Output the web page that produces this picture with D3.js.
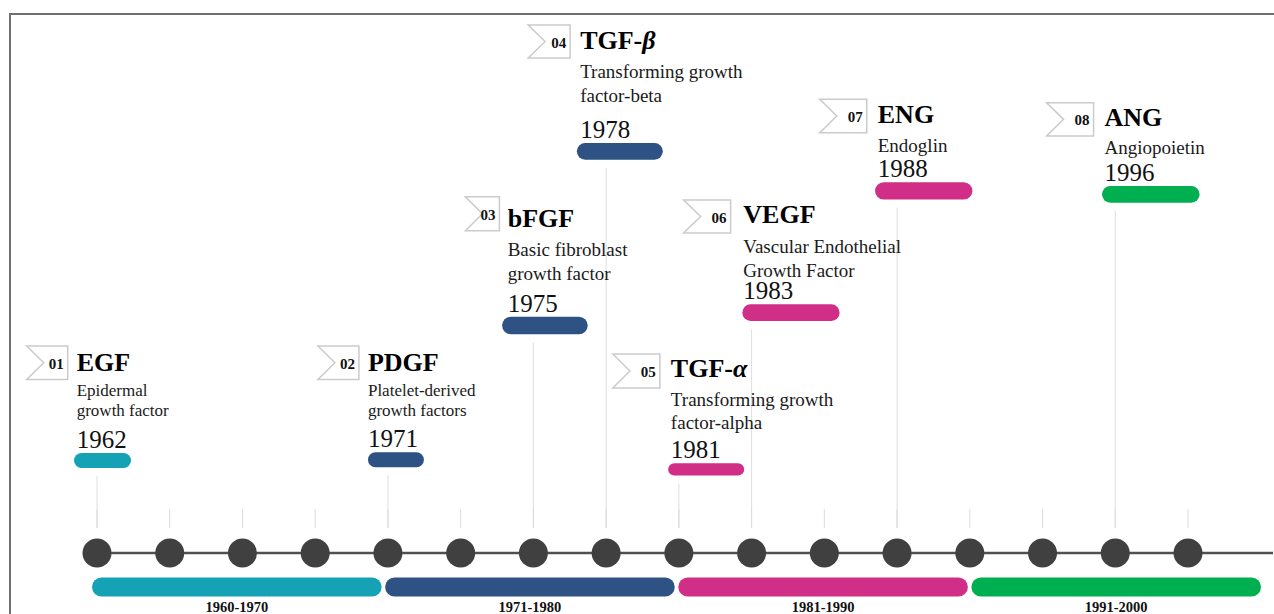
<!DOCTYPE html>
<html>
<head>
<meta charset="utf-8">
<script src="https://cdn.jsdelivr.net/npm/d3@7"></script>
<style>
  body { margin: 0; background: #fff; }
  svg { display: block; font-family: "Times New Roman", "Liberation Serif", serif; }
</style>
</head>
<body>
<script>
// decades shown under the timeline, 4 dots each
const eras = ["1960-1970", "1971-1980", "1981-1990", "1991-2000"];
const eraColors = ["#14a2b4", "#2d5283", "#d12e87", "#00b050"];
const dotsPerEra = 4;

// growth factor discoveries
const codes = ["01", "02", "03", "04", "05", "06", "07", "08"];
const names = ["EGF", "PDGF", "bFGF", "TGF-β", "TGF-α", "VEGF", "ENG", "ANG"];
const fullNames = [
  ["Epidermal", "growth factor"],
  ["Platelet-derived", "growth factors"],
  ["Basic fibroblast", "growth factor"],
  ["Transforming growth", "factor-beta"],
  ["Transforming growth", "factor-alpha"],
  ["Vascular Endothelial", "Growth Factor"],
  ["Endoglin"],
  ["Angiopoietin"]
];
const years = [1962, 1971, 1975, 1978, 1981, 1983, 1988, 1996];
// which timeline dot each discovery hangs from
const eventSlot = [0, 4, 6, 7, 8, 9, 11, 14];

// label placement (hand tuned, like the original slide)
// dx: title left from dot, y: title baseline, fw/fx/fy: flag, ds: desc font,
// d1: first desc line, lh: desc line height, yr: year baseline, px/pw/ph: pill
const layout = [
  {dx: -20.3, y: 370.7, fw: 41, fx: -9,    fy: -24.7, fh: 33.5, ds: 17, d1: 25,   lh: 20.5, yr: 77.3, px: -2.7, pw: 57,   ph: 15},
  {dx: -20,   y: 370.7, fw: 41, fx: -9,    fy: -24.7, fh: 33.5, ds: 17, d1: 25,   lh: 20.5, yr: 76.5, px: 0,    pw: 56,   ph: 15},
  {dx: -25.7, y: 226.7, fw: 34, fx: -8.3,  fy: -30,   fh: 34,   ds: 19, d1: 29,   lh: 24.3, yr: 85,   px: -5.6, pw: 85.6, ph: 17.6},
  {dx: -26,   y: 49.3,  fw: 42, fx: -10,   fy: -24.3, fh: 33,   ds: 19, d1: 28.7, lh: 23.7, yr: 88.7, px: -3.3, pw: 86,   ph: 16.7},
  {dx: -8,    y: 377.3, fw: 47, fx: -11,   fy: -23.3, fh: 34,   ds: 19, d1: 28.7, lh: 23.3, yr: 81,   px: -2.7, pw: 76,   ph: 12.3},
  {dx: -8.3,  y: 223.3, fw: 47, fx: -12.7, fy: -23.3, fh: 33,   ds: 19, d1: 30,   lh: 24,   yr: 76,   px: -1,   pw: 97.3, ph: 16.7},
  {dx: -19.3, y: 122.7, fw: 47, fx: -11,   fy: -23.4, fh: 33.4, ds: 19, d1: 29,   lh: 24,   yr: 54.6, px: -2.7, pw: 97.3, ph: 17.3},
  {dx: -10.7, y: 126,   fw: 47, fx: -11,   fy: -23.3, fh: 33.3, ds: 19, d1: 28,   lh: 24,   yr: 55,   px: -2.6, pw: 97.6, ph: 16.7}
];

const width = 1274, height = 614;
const axisY = 553;

const svg = d3.select("body").append("svg")
    .attr("width", width)
    .attr("height", height);

// frame (only top and left edges show)
svg.append("path")
    .attr("d", `M10,614V14H1274`)
    .attr("fill", "none")
    .attr("stroke", "#6f6f6f")
    .attr("stroke-width", 2);

const slots = d3.range(eras.length * dotsPerEra);
const x = d3.scalePoint().domain(slots).range([97, 1188]);
const xEra = d3.scaleBand().domain(eras).range([92, 1261]).paddingInner(0.012);

const events = years.map((year, i) => ({
  code: codes[i], name: names[i], lines: fullNames[i], year,
  slot: eventSlot[i], era: Math.floor(eventSlot[i] / dotsPerEra), L: layout[i]
}));

// connector lines from pill to timeline
svg.append("g")
    .attr("stroke", "#dedede")
    .attr("stroke-width", 1)
  .selectAll("line")
  .data(events)
  .join("line")
    .attr("x1", d => x(d.slot))
    .attr("x2", d => x(d.slot))
    .attr("y1", d => d.L.y + d.L.yr + 5 + d.L.ph + 8)
    .attr("y2", 528);

// short ticks above every dot
svg.append("g")
    .attr("stroke", "#dcdcdc")
    .attr("stroke-width", 1)
  .selectAll("line")
  .data(slots)
  .join("line")
    .attr("x1", d => x(d))
    .attr("x2", d => x(d))
    .attr("y1", 509)
    .attr("y2", 528);

// timeline axis and dots
svg.append("line")
    .attr("x1", x(0))
    .attr("x2", 1273)
    .attr("y1", axisY)
    .attr("y2", axisY)
    .attr("stroke", "#505050")
    .attr("stroke-width", 2.5);

svg.append("g")
    .attr("fill", "#404040")
  .selectAll("circle")
  .data(slots)
  .join("circle")
    .attr("cx", d => x(d))
    .attr("cy", axisY)
    .attr("r", 14.5);

// decade bars and labels
const era = svg.append("g")
  .selectAll("g")
  .data(eras)
  .join("g");

era.append("rect")
    .attr("x", d => xEra(d))
    .attr("y", 577.5)
    .attr("width", xEra.bandwidth())
    .attr("height", 19)
    .attr("rx", 9.5)
    .attr("fill", (d, i) => eraColors[i]);

era.append("text")
    .attr("x", d => xEra(d) + xEra.bandwidth() / 2)
    .attr("y", 611.5)
    .attr("text-anchor", "middle")
    .attr("font-size", 14.5)
    .attr("font-weight", "bold")
    .attr("fill", "#111")
    .text(d => d);

// event labels
const ev = svg.append("g")
  .selectAll("g")
  .data(events)
  .join("g")
    .attr("transform", d => `translate(${x(d.slot) + d.L.dx},${d.L.y})`);

// ribbon flag with notched left side
ev.append("path")
    .attr("d", d => {
      const r = d.L.fx, l = r - d.L.fw, t = d.L.fy, b = t + d.L.fh, m = (t + b) / 2;
      return `M${l},${t}H${r}V${b}H${l}L${l + 17},${m}Z`;
    })
    .attr("fill", "#fff")
    .attr("stroke", "#cbcbcb")
    .attr("stroke-width", 1.5);

ev.append("text")
    .attr("x", d => d.L.fx - 4)
    .attr("y", d => d.L.fy + d.L.fh / 2 + 6)
    .attr("text-anchor", "end")
    .attr("font-size", 15)
    .attr("font-weight", "bold")
    .attr("fill", "#111")
    .text(d => d.code);

// title, greek letters in bold italic
const title = ev.append("text")
    .attr("font-size", 26)
    .attr("font-weight", "bold")
    .attr("fill", "#000");

title.append("tspan")
    .text(d => d.name.replace(/[αβ]$/, ""));
title.append("tspan")
    .attr("font-style", "italic")
    .text(d => (d.name.match(/[αβ]$/) || [""])[0]);

ev.each(function(d) {
  const g = d3.select(this);
  d.lines.forEach((s, j) => {
    g.append("text")
        .attr("y", d.L.d1 + j * d.L.lh)
        .attr("font-size", d.L.ds)
        .attr("fill", "#1a1a1a")
        .text(s);
  });
});

ev.append("text")
    .attr("y", d => d.L.yr)
    .attr("font-size", 25)
    .attr("fill", "#111")
    .text(d => d.year);

ev.append("rect")
    .attr("x", d => d.L.px)
    .attr("y", d => d.L.yr + 5)
    .attr("width", d => d.L.pw)
    .attr("height", d => d.L.ph)
    .attr("rx", d => d.L.ph / 2)
    .attr("fill", d => eraColors[d.era]);
</script>
</body>
</html>
